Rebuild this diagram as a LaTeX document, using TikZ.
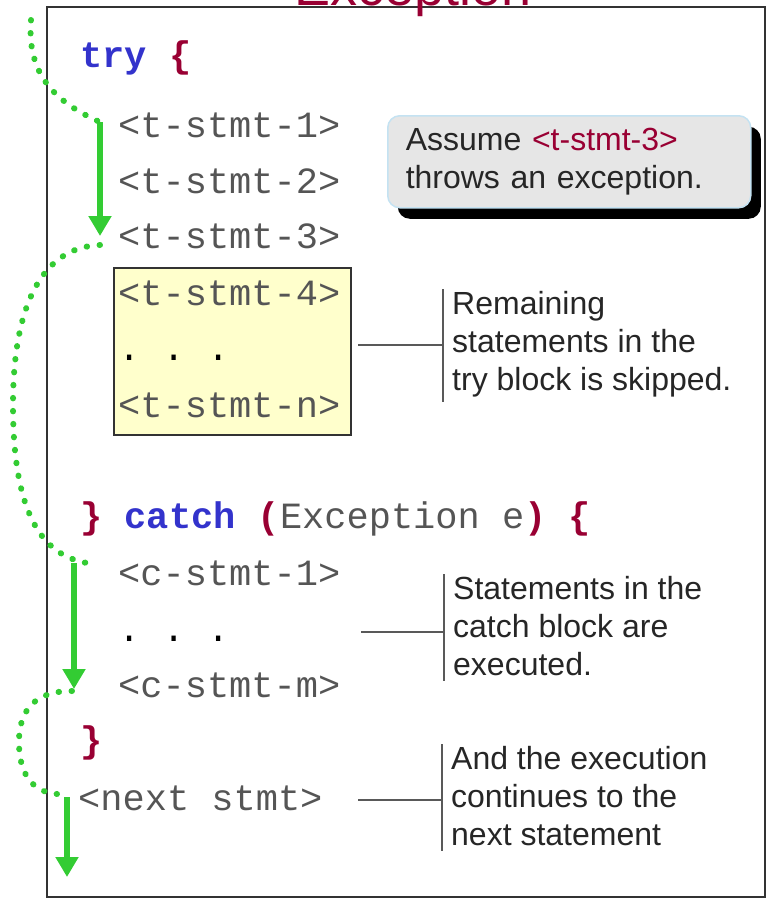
\documentclass[tikz,border=0pt]{standalone}
\usepackage{fontspec}
\setmainfont{Liberation Sans}
\setmonofont{Liberation Mono}
\usetikzlibrary{positioning,arrows.meta,shadows}

\definecolor{codegray}{HTML}{555555}
\definecolor{kwblue}{HTML}{3333CC}
\definecolor{brkred}{HTML}{990033}
\definecolor{flowgreen}{HTML}{33CC33}
\definecolor{skipyellow}{HTML}{FFFFCC}
\definecolor{notegray}{HTML}{E6E6E6}
\definecolor{noteblue}{HTML}{C4E2F2}

\newcommand\kwtxt[1]{\textcolor{kwblue}{\bfseries #1}}
\newcommand\brtxt[1]{\textcolor{brkred}{\bfseries #1}}

\tikzset{
  code/.style={anchor=base west, inner sep=0pt, text=codegray,
    font=\ttfamily\fontsize{37}{44}\selectfont},
  note/.style={anchor=north west, inner sep=0pt, align=left, text=black!85,
    font=\fontsize{32}{38}\selectfont},
  assumebox/.style={anchor=north west, draw=noteblue, line width=1.5pt, fill=notegray,
    rounded corners=12pt, minimum width=363pt, minimum height=92pt,
    text width=327pt, inner xsep=18pt, inner ysep=0pt, align=left,
    font=\fontsize{32}{38}\selectfont, text=black!85,
    drop shadow={shadow xshift=10pt, shadow yshift=-11pt, fill=black, opacity=1}},
  skipbox/.style={anchor=north west, draw=black!80, line width=1.5pt, fill=skipyellow,
    minimum width=237pt, minimum height=167pt, inner sep=0pt,
    drop shadow={shadow xshift=1.5pt, shadow yshift=-1.5pt, fill=black!40, opacity=1}},
  flow/.style={flowgreen, line width=6pt, -{Triangle[width=22pt,length=20pt]}},
  jump/.style={flowgreen, line width=6pt, line cap=round, dash pattern=on 0.5pt off 12.5pt},
  lead/.style={black!65, line width=2pt},
}

\begin{document}
\begin{tikzpicture}[x=1pt,y=-1pt]
\useasboundingbox (0,0) rectangle (767,899);
  \draw[black!80, line width=2pt] (47,7) rectangle (765,897);
  \node[anchor=base west, inner sep=0pt, text=brkred, font=\fontsize{54}{60}\selectfont]
    (title) at (294,6) {Exception};
  \node[skipbox] (skip) at (113,267) {};
% code lines
  \node[code] (try) at (80,67) {\kwtxt{try} \brtxt{\{}};
  \foreach \name/\y/\stmt in {t1/137/<t-stmt-1>, t2/193/<t-stmt-2>, t3/248/<t-stmt-3>,
      t4/305/<t-stmt-4>, tn/417/<t-stmt-n>, c1/585/<c-stmt-1>, cm/697/<c-stmt-m>}
    \node[code] (\name) at (118,\y) {\stmt};
  \foreach \name/\y in {tdots/360, cdots/641}
    \node[code, text=black] (\name) at (118,\y) {. . .};
  \node[code] (catch) at (80,528)
    {\brtxt{\}} \kwtxt{catch} \brtxt{(}Exception e\brtxt{)} \brtxt{\{}};
  \node[code] (close) at (80,752) {\brtxt{\}}};
  \node[code] (next) at (78,810) {<next stmt>};
% notes
  \node[assumebox] (assume) at (387,115)
    {Assume \textcolor{brkred}{<t-stmt-3>}\\throws an exception.};
  \node[note] (n1) at (452,291) {Remaining\\statements in the\\try block is skipped.};
  \node[note] (n2) at (453,576) {Statements in the\\catch block are\\executed.};
  \node[note] (n3) at (451,746) {And the execution\\continues to the\\next statement};
  \foreach \n in {n1,n2,n3}{
    \draw[lead] ([xshift=-9pt,yshift=2pt]\n.north west) -- ([xshift=-9pt,yshift=-5pt]\n.south west);
    \coordinate (b\n) at ([xshift=-9pt]\n.west);
  }
  \coordinate (l1) at (358,345);
  \coordinate (l2) at (361,632);
  \coordinate (l3) at (358,800);
  \draw[lead] (l1) -- (l1 -| bn1);
  \draw[lead] (l2) -- (l2 -| bn2);
  \draw[lead] (l3) -- (l3 -| bn3);
% flow of control
  \coordinate (f1a) at (100,122); \coordinate (f1b) at (100,236);
  \coordinate (f2a) at (74,563);  \coordinate (f2b) at (74,689);
  \coordinate (f3a) at (67,797);  \coordinate (f3b) at (67,877);
  \draw[flow] (f1a) -- (f1b);
  \draw[flow] (f2a) -- (f2b);
  \draw[flow] (f3a) -- (f3b);
  \draw[jump] (31,20) .. controls (27,70) and (50,100) .. (f1a);
  \draw[jump] (f1b) ++(0,9) .. controls (45,247) and (13,300) .. (13,405)
    .. controls (13,510) and (40,555) .. (87,563);
  \draw[jump] (f2b) ++(-2,2) .. controls (35,691) and (19,710) .. (19,742)
    .. controls (19,775) and (33,792) .. (57,794);
\end{tikzpicture}
\end{document}
